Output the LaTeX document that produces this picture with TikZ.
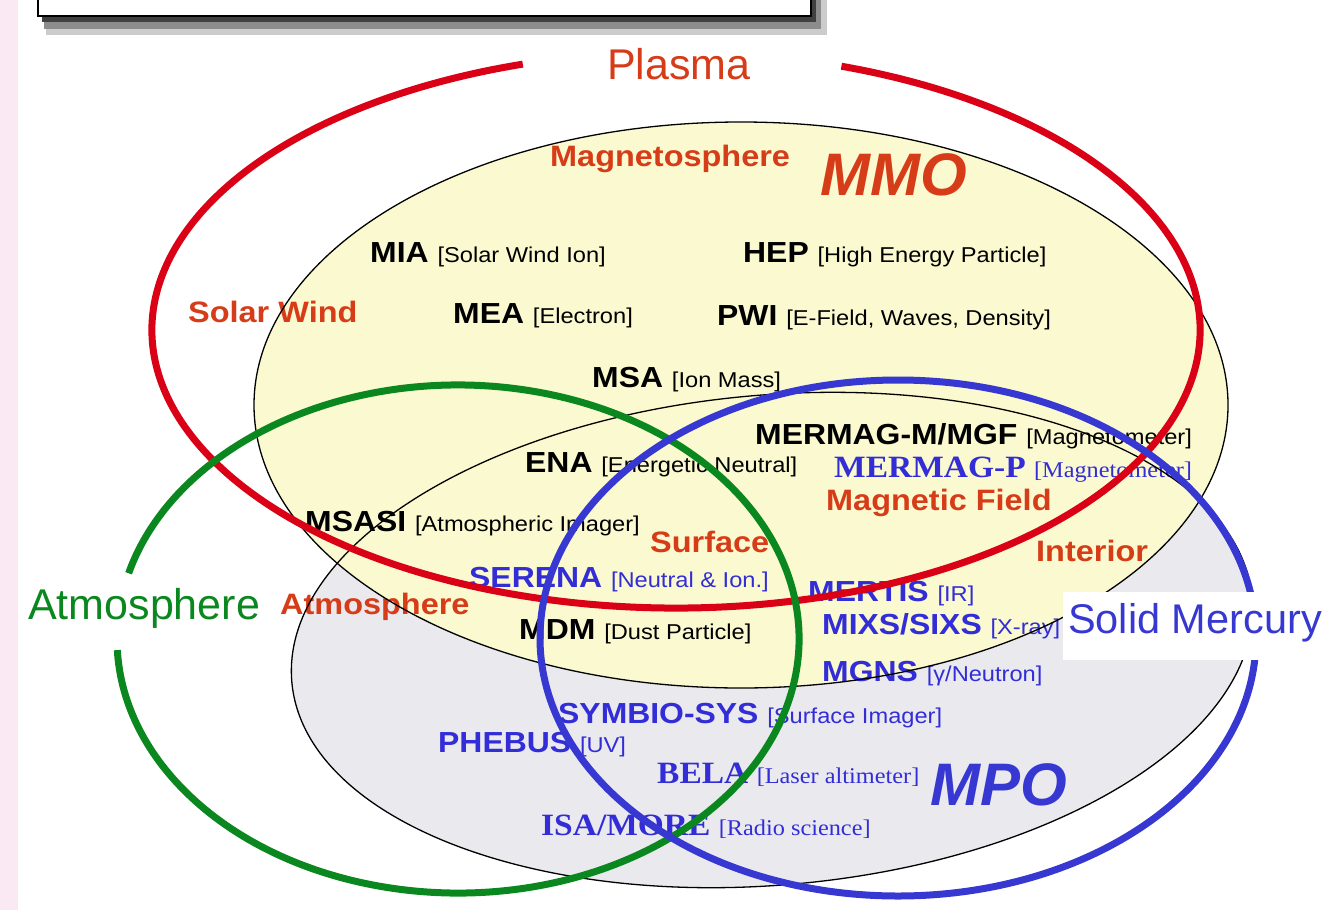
\documentclass[tikz,border=0pt]{standalone}
\usepackage{fontspec}
\setmainfont{Liberation Sans}
\newfontfamily\lblfont{Liberation Sans}[FakeStretch=1.1]
\newfontfamily\serfont{Liberation Serif}[FakeStretch=1.08]

\definecolor{plasmared}{RGB}{218,0,22}
\definecolor{atmgreen}{RGB}{10,135,30}
\definecolor{mercblue}{RGB}{55,55,210}
\definecolor{topicred}{RGB}{215,60,25}
\definecolor{instblue}{RGB}{50,45,215}
\definecolor{mmofill}{RGB}{251,249,207}
\definecolor{mpofill}{RGB}{234,234,238}
\definecolor{pinkedge}{RGB}{250,232,242}

\newcommand{\instnote}[1]{{\mdseries\fontsize{21.5}{24}\selectfont[#1]}}
\newcommand{\sernote}[1]{{\mdseries\fontsize{22.5}{24}\selectfont[#1]}}

\tikzset{
  inst/.style={anchor=base west, inner sep=0pt, font=\lblfont\bfseries\fontsize{29}{32}\selectfont},
  minst/.style={inst, text=instblue},
  sinst/.style={inst, text=instblue, font=\serfont\bfseries\fontsize{31}{34}\selectfont},
  topic/.style={anchor=base west, inner sep=0pt, text=topicred, font=\lblfont\bfseries\fontsize{29.5}{32}\selectfont},
  region/.style={anchor=base west, inner sep=0pt, font=\fontsize{43}{46}\selectfont},
  craft/.style={anchor=base west, inner sep=0pt, font=\bfseries\itshape\fontsize{60}{64}\selectfont},
  ring/.style={line width=7pt},
}

\begin{document}
\begin{tikzpicture}[x=1pt, y=-1pt]
  \useasboundingbox (0,0) rectangle (1324,910);

  % PAGE EDGE AND TITLE BOX
  \fill[pinkedge] (0,0) rectangle (18,910);
  \fill[black!20] (46,-20) rectangle (827,35);
  \fill[black!45] (44,-20) rectangle (821,29);
  \fill[black!75] (42,-20) rectangle (816,22);
  \draw[line width=2pt, fill=white] (38,-20) rectangle (811,16);

  % SPACECRAFT REGIONS
  \fill[mpofill, rotate around={5:(772,640)}] (772,640) ellipse [x radius=482, y radius=245];
  \fill[mmofill] (741,405) ellipse [x radius=487, y radius=283];

  % TOPICS
  \node[region, text=topicred] (plasma) at (607,79) {Plasma};
  \node[region, text=atmgreen] (atmos) at (28,619) {Atmosphere};
  \node[topic] (magsph) at (550,166) {Magnetosphere};
  \node[topic] (swind) at (188,322) {Solar Wind};
  \node[topic] (magfld) at (826,510) {Magnetic Field};
  \node[topic] (surf) at (650,552) {Surface};
  \node[topic] (inter) at (1036,561) {Interior};
  \node[topic] (atmred) at (280,614) {Atmosphere};
  \node[craft, text=topicred] (mmo) at (820,195) {MMO};
  \node[craft, text=mercblue] (mpo) at (930,805) {MPO};

  % MMO INSTRUMENTS
  \node[inst] (mia) at (370,262) {MIA \instnote{Solar Wind Ion}};
  \node[inst] (hep) at (743,262) {HEP \instnote{High Energy Particle}};
  \node[inst] (mea) at (453,323) {MEA \instnote{Electron}};
  \node[inst] (pwi) at (717,325) {PWI \instnote{E-Field, Waves, Density}};
  \node[inst] (msa) at (592,387) {MSA \instnote{Ion Mass}};
  \node[inst] (mgf) at (755,444) {MERMAG-M/MGF \instnote{Magnetometer}};
  \node[inst] (ena) at (525,472) {ENA \instnote{Energetic Neutral}};
  \node[inst] (msasi) at (305,531) {MSASI \instnote{Atmospheric Imager}};
  \node[inst] (mdm) at (519,639) {MDM \instnote{Dust Particle}};

  % MPO INSTRUMENTS
  \node[sinst] (magp) at (834,477) {MERMAG-P \sernote{Magnetometer}};
  \node[minst] (serena) at (469,587) {SERENA \instnote{Neutral \& Ion.}};
  \node[minst] (mertis) at (808,601) {MERTIS \instnote{IR}};
  \node[minst] (mixs) at (822,634) {MIXS/SIXS \instnote{X-ray}};
  \node[minst] (mgns) at (822,681) {MGNS \instnote{γ/Neutron}};
  \node[minst] (symbio) at (558,723) {SYMBIO-SYS \instnote{Surface Imager}};
  \node[minst] (phebus) at (438,752) {PHEBUS \instnote{UV}};
  \node[sinst] (bela) at (657,783) {BELA \sernote{Laser altimeter}};
  \node[sinst] (isa) at (541,835) {ISA/MORE \sernote{Radio science}};

  % OUTLINES
  \draw[line width=1.3pt] (741,405) ellipse [x radius=487, y radius=283];
  \draw[line width=1.3pt, rotate around={5:(772,640)}] (772,640) ellipse [x radius=482, y radius=245];

  % RINGS
  \draw[ring, plasmared] (676,330) ++(288.4:524 and 278)
    arc[start angle=288.4, end angle=613, x radius=524, y radius=278];
  \draw[ring, atmgreen] (458,639) ++(195:341 and 254)
    arc[start angle=195, end angle=537.5, x radius=341, y radius=254];
  \draw[ring, mercblue] (898,638) ellipse [x radius=358, y radius=258];

  \node[region, text=mercblue, fill=white, inner xsep=5pt, inner ysep=0pt,
        font=\fontsize{41.5}{44}\selectfont,
        text height=41pt, text depth=27pt] (solid) at (1063,633) {Solid Mercury};
\end{tikzpicture}
\end{document}
